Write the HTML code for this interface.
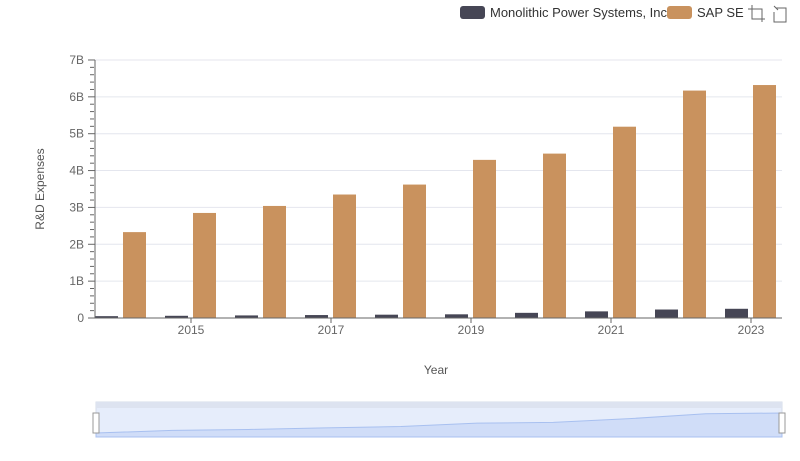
<!DOCTYPE html>
<html><head><meta charset="utf-8"><style>
body{margin:0;background:#fff;font-family:"Liberation Sans",sans-serif}
svg{display:block}
text{font-family:"Liberation Sans",sans-serif}
</style></head><body>
<svg id="chart" width="800" height="461">
<g id="legend">
 <g><rect x="460" y="6" width="25" height="13" rx="3" fill="#464655"/><text x="490" y="17" font-size="13" fill="#333">Monolithic Power Systems, Inc.</text></g>
 <g><rect x="667" y="6" width="25" height="13" rx="3" fill="#c9925e"/><text x="697" y="17" font-size="13" fill="#333">SAP SE</text></g>
 <g stroke="#666" fill="none"><path d="M748 9h14v13M752 5v14h13"/></g>
 <g stroke="#666" fill="none"><path d="M776 8h10v14h-12v-10M774 6l4 4"/></g>
</g>
<g id="grid"></g>
<g id="bars"></g>
<g id="axes"></g>
<text x="44" y="189" font-size="12" fill="#555" transform="rotate(-90 44 189)" text-anchor="middle">R&amp;D Expenses</text>
<text x="436" y="374" font-size="12" fill="#555" text-anchor="middle">Year</text>
<g>
 <rect x="96" y="402" width="686" height="35" fill="#e6edfb" stroke="#d6dcea"/>
 <rect x="96" y="402" width="686" height="6" fill="#dde3f0"/>
 <path id="sliderArea" fill="#d0ddf8" stroke="#a8c0f0"/>
 <rect x="93" y="413" width="6" height="20" fill="#fff" stroke="#999"/>
 <rect x="779" y="413" width="6" height="20" fill="#fff" stroke="#999"/>
</g>
</svg>
<script>
const years=[2014,2015,2016,2017,2018,2019,2020,2021,2022,2023];
const mps=[0.05,0.06,0.07,0.08,0.09,0.10,0.14,0.18,0.23,0.25];
const sap=[2.33,2.85,3.04,3.35,3.62,4.29,4.46,5.19,6.17,6.32];
const yTicks=[0,1,2,3,4,5,6,7];
const yLabels=["0","1B","2B","3B","4B","5B","6B","7B"];
const xLabelYears=[2015,2017,2019,2021,2023];
const NS="http://www.w3.org/2000/svg";
const y0=318,pxPerB=36.86;
const Y=v=>y0-v*pxPerB;
const X=yr=>121+(yr-2014)*70;
function mk(tag,attrs,parent){const e=document.createElementNS(NS,tag);for(const k in attrs)e.setAttribute(k,attrs[k]);parent.appendChild(e);return e;}
const grid=document.getElementById('grid'),bars=document.getElementById('bars'),axes=document.getElementById('axes');
yTicks.forEach((t,i)=>{
 if(t>0){const l=mk('line',{x1:95,x2:782,y1:Y(t),y2:Y(t),stroke:'#e4e6ee'},grid);
 
 }
 const tx=mk('text',{x:84,y:Y(t)+4,'font-size':12,fill:'#666','text-anchor':'end'},axes);tx.textContent=yLabels[i];
 
 
 if(i<yTicks.length-1){for(let k=1;k<5;k++){const m=mk('line',{x1:90,x2:94,y1:Y(t+k*0.2),y2:Y(t+k*0.2),stroke:'#666'},axes);
 
 }}
 const mj=mk('line',{x1:88,x2:95,y1:Y(t),y2:Y(t),stroke:'#666'},axes);
 
 
});
const yax=mk('line',{x1:95,x2:95,y1:Y(0),y2:Y(7),stroke:'#666'},axes);


const xax=mk('line',{x1:95,x2:782,y1:y0,y2:y0,stroke:'#666'},axes);


xLabelYears.forEach(yr=>{
 const t=mk('line',{x1:X(yr),x2:X(yr),y1:y0,y2:y0+5,stroke:'#666'},axes);
 
 
 const tx=mk('text',{x:X(yr),y:y0+16,'font-size':12,fill:'#666','text-anchor':'middle'},axes);tx.textContent=yr;
 
 
});
years.forEach((yr,i)=>{
 const c=X(yr);
 const a=mk('rect',{x:c-26,y:Y(mps[i]),width:23,height:y0-Y(mps[i]),fill:'#464655'},bars);
 
 
 const b=mk('rect',{x:c+2,y:Y(sap[i]),width:23,height:y0-Y(sap[i]),fill:'#c9925e'},bars);
 
 
});
// slider overview
const sx=yr=>96+(yr-2014)*(686/9), sy=v=>433-v*(20/6.32);
let d='M96 437';years.forEach((yr,i)=>{d+=' L'+sx(yr)+' '+sy(sap[i]+mps[i]-2.2*(1-i/9)*0+0)});
d='M96 437';years.forEach((yr,i)=>{d+=' L'+sx(yr)+' '+(433-(sap[i]-2.33)/(6.32-2.33)*20)});d+=' L782 437Z';
document.getElementById('sliderArea').setAttribute('d',d);
</script>
</body></html>
